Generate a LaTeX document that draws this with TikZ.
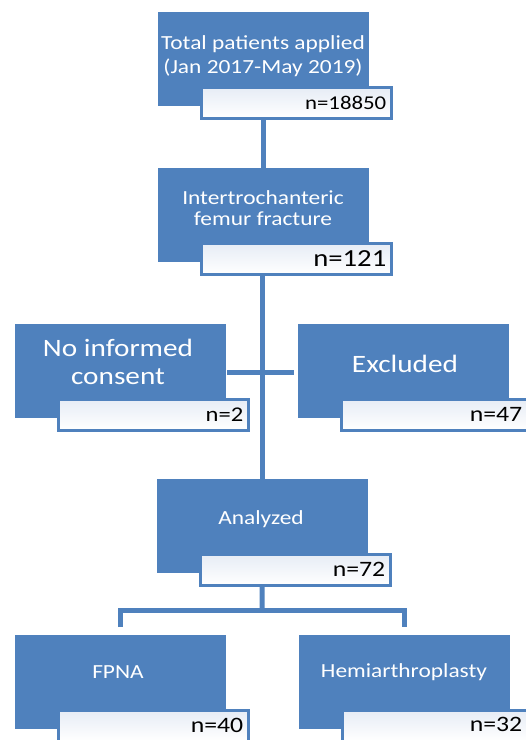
\documentclass[tikz,border=0pt]{standalone}
\usepackage{fontspec}
\setmainfont{Carlito}[FakeStretch=1.17]
\usetikzlibrary{calc}
\definecolor{boxblue}{RGB}{79,129,189}
\definecolor{countgray}{RGB}{230,236,245}
\tikzset{
  bluebox/.style={draw=boxblue,fill=boxblue,minimum width=210pt,minimum height=93pt,anchor=north west,inner sep=0pt},
  countbox/.style={draw=boxblue,line width=3pt,top color=countgray,bottom color=white,minimum width=190pt,minimum height=31pt,anchor=north west,inner sep=0pt},
  boxtext/.style={text=white,align=center,inner sep=0pt,font=\fontsize{20}{23}\selectfont},
  bigtext/.style={boxtext,font=\fontsize{25}{28}\selectfont},
  counttext/.style={anchor=east,text=black,inner sep=0pt,font=\fontsize{22}{26}\selectfont},
  link/.style={draw=boxblue,line width=5pt}
}

\begin{document}
\begin{tikzpicture}[x=1pt,y=-1pt]
\useasboundingbox (0,0) rectangle (526,740);
\clip (0,0) rectangle (526,740);
%box 1
\node[bluebox](tot)at(158,12){};
\node[countbox](totN)at(199.5,85.5){};
\node[boxtext,font=\fontsize{20}{24}\selectfont](totT)at(263,56){Total patients applied\\(Jan 2017-May 2019)};
\node[counttext,font=\fontsize{19.5}{22}\selectfont](totC)at($(totN.east)+(-6,0)$){n=18850};
%box 2
\node[bluebox](fem)at(158,168){};
\node[countbox](femN)at(199.5,241.5){};
\node[boxtext,font=\fontsize{20}{21}\selectfont](femT)at(263,208){Intertrochanteric\\femur fracture};
\node[counttext,font=\fontsize{24.5}{28}\selectfont](femC)at($(femN.east)+(-6,0)$){n=121};
%side boxes
\node[bluebox](noc)at(15,324){};
\node[countbox](nocN)at(56.5,397.5){};
\node[bigtext](nocT)at(118,362){No informed\\consent};
\node[counttext,font=\fontsize{21}{24}\selectfont](nocC)at($(nocN.east)+(-6,0)$){n=2};
\node[bluebox](exc)at(298,324){};
\node[countbox](excN)at(339.5,397.5){};
\node[bigtext](excT)at(405,364){Excluded};
\node[counttext](excC)at($(excN.east)+(-10,0)$){n=47};
%box 3
\node[bluebox](ana)at(157,479){};
\node[countbox](anaN)at(198.5,552.5){};
\node[boxtext](anaT)at(261,519){Analyzed};
\node[counttext](anaC)at($(anaN.east)+(-6,0)$){n=72};
%groups
\node[bluebox](fpna)at(15,635){};
\node[countbox](fpnaN)at(56.5,708.5){};
\node[boxtext](fpnaT)at(118,672){FPNA};
\node[counttext](fpnaC)at($(fpnaN.east)+(-6,0)$){n=40};
\node[bluebox](hemi)at(299,635){};
\node[countbox](hemiN)at(340.5,708.5){};
\node[boxtext](hemiT)at(404,672){Hemiarthroplasty};
\node[counttext](hemiC)at($(hemiN.east)+(-11,-1)$){n=32};
%connectors
\coordinate(crossL)at(227,372);
\coordinate(crossR)at(294,372);
\coordinate(split)at(262,610);
\coordinate(fpnaTop)at($(fpna.north)+(0,-8)$);
\coordinate(hemiTop)at($(hemi.north)+(0,-8)$);
\draw[link](totN.south -| tot.north)--(fem.north);
\draw[link](femN.south -| ana.north)--(ana.north);
\draw[link](crossL)--(crossR);
\draw[link](anaN.south -| ana.north)--(split);
\draw[link](fpnaTop)|-(split)-|(hemiTop);
\end{tikzpicture}
\end{document}
